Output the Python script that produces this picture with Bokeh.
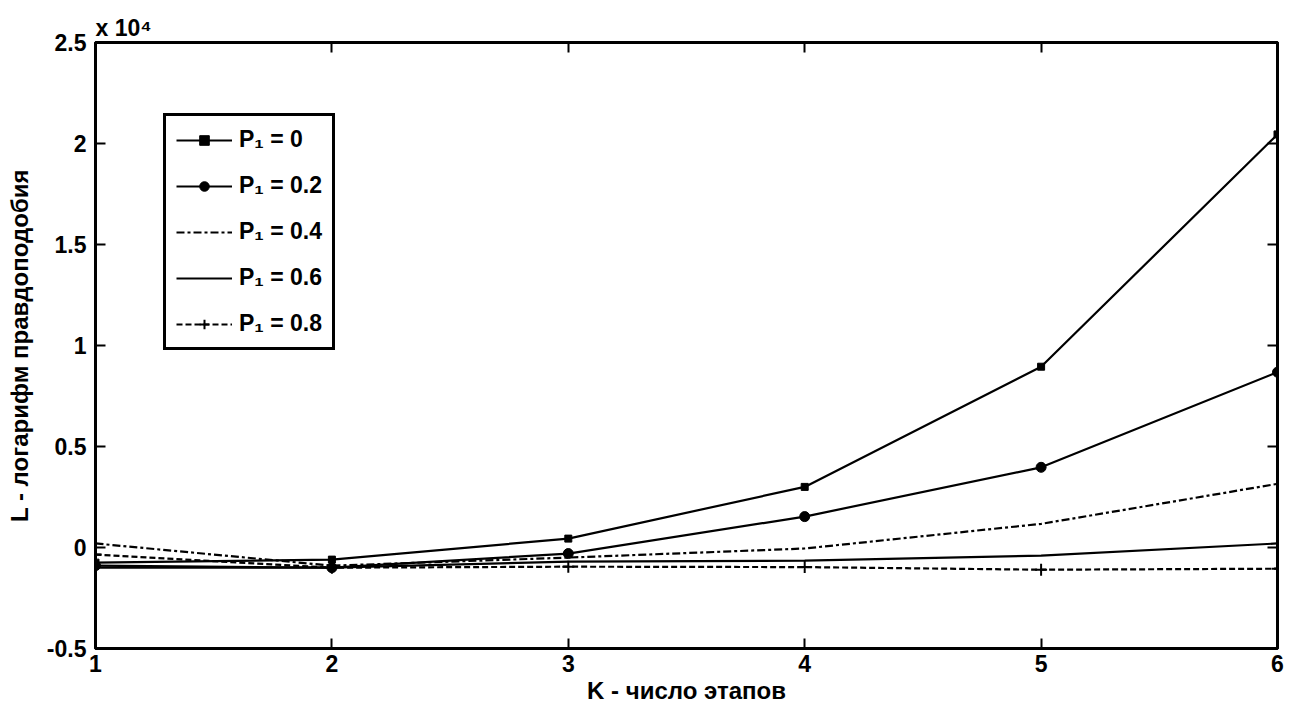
from bokeh.plotting import figure
from bokeh.models import (LinearAxis, FixedTicker, CustomJSTickFormatter, Legend,
                          LegendItem, Range1d)
from bokeh.embed import file_html
from bokeh.resources import INLINE

# ---- data ----
K = [1, 2, 3, 4, 5, 6]
p1_00 = [-750, -600, 440, 3000, 8950, 20450]
p1_02 = [-900, -1000, -300, 1530, 3970, 8680]
p1_04 = [200, -900, -500, -50, 1170, 3150]
p1_06 = [-1000, -1000, -700, -650, -400, 200]
p1_08 = [-350, -1000, -950, -970, -1100, -1050]
labels = ["P\u2081 = 0", "P\u2081 = 0.2", "P\u2081 = 0.4", "P\u2081 = 0.6", "P\u2081 = 0.8"]
x_ticks = [1, 2, 3, 4, 5, 6]
y_ticks = [-5000, 0, 5000, 10000, 15000, 20000, 25000]

FONT = "Liberation Sans"
TICK_FS = "23px"
LABEL_FS = "24px"

p = figure(width=1290, height=710, output_backend="svg", toolbar_location=None,
           x_range=Range1d(1, 6), y_range=Range1d(-5000, 25000),
           min_border_left=95, min_border_right=13, min_border_top=42, min_border_bottom=62)
p.xgrid.visible = False
p.ygrid.visible = False
p.outline_line_color = "black"
p.outline_line_width = 3
p.background_fill_color = "white"
p.border_fill_color = "white"

p.title.text = "x 10\u2074"
p.title.align = "left"
p.title.offset = 0
p.title.standoff = 4
p.title.text_font = FONT
p.title.text_font_style = "bold"
p.title.text_font_size = "23px"
p.title.text_color = "black"

fmt_y = CustomJSTickFormatter(code="return (tick/1e4).toString();")
blank = CustomJSTickFormatter(code="return '';")

def style_axis(ax, ticks, fmt):
    ax.ticker = FixedTicker(ticks=ticks)
    ax.formatter = fmt
    ax.major_tick_in = 10
    ax.major_tick_out = 0
    ax.minor_tick_line_color = None
    ax.major_tick_line_width = 2
    ax.major_tick_line_color = "black"
    ax.axis_line_color = "black"
    ax.axis_line_width = 3
    ax.major_label_text_font = FONT
    ax.major_label_text_font_style = "bold"
    ax.major_label_text_font_size = TICK_FS
    ax.major_label_text_color = "black"
    ax.axis_label_text_font = FONT
    ax.axis_label_text_font_style = "bold"
    ax.axis_label_text_font_size = LABEL_FS
    ax.axis_label_text_color = "black"

xa = p.xaxis[0]
ya = p.yaxis[0]
style_axis(xa, x_ticks, CustomJSTickFormatter(code="return tick.toString();"))
style_axis(ya, y_ticks, fmt_y)
xa.major_label_standoff = 6
ya.major_label_standoff = 9
xa.axis_label = "K - число этапов"
ya.axis_label = "L - логарифм правдоподобия"
xa.axis_label_standoff = 2
ya.axis_label_standoff = 11

ra = LinearAxis()
ta = LinearAxis()
style_axis(ra, y_ticks, blank)
style_axis(ta, x_ticks, blank)
ra.major_label_standoff = 0
ta.major_label_standoff = 0
p.add_layout(ra, "right")
p.add_layout(ta, "above")

# ---- series ----
lw = 2.2
r0 = p.line(K, p1_00, line_color="black", line_width=lw)
m0 = p.scatter(K, p1_00, marker="square", size=7, color="black")
r1 = p.line(K, p1_02, line_color="black", line_width=lw)
m1 = p.scatter(K, p1_02, marker="circle", size=10, color="black")
r2 = p.line(K, p1_04, line_color="black", line_width=lw, line_dash="8 3 3 3")
r3 = p.line(K, p1_06, line_color="black", line_width=lw)
r4 = p.line(K, p1_08, line_color="black", line_width=lw, line_dash="6 3")
m4 = p.scatter(K, p1_08, marker="cross", size=12, color="black", line_width=2)

legend = Legend(items=[
    LegendItem(label=labels[0], renderers=[r0, m0]),
    LegendItem(label=labels[1], renderers=[r1, m1]),
    LegendItem(label=labels[2], renderers=[r2]),
    LegendItem(label=labels[3], renderers=[r3]),
    LegendItem(label=labels[4], renderers=[r4, m4]),
], location=(68, 298))
legend.label_text_font = FONT
legend.label_text_font_style = "bold"
legend.label_text_font_size = "23px"
legend.label_text_color = "black"
legend.glyph_width = 56
legend.glyph_height = 24
legend.label_height = 24
legend.spacing = 19
legend.padding = 10
legend.margin = 0
legend.label_standoff = 7
legend.border_line_color = "black"
legend.border_line_alpha = 1
legend.border_line_width = 3
legend.background_fill_color = "white"
legend.background_fill_alpha = 1
p.add_layout(legend, "center")

open("out.html", "w").write(file_html(p, INLINE))
